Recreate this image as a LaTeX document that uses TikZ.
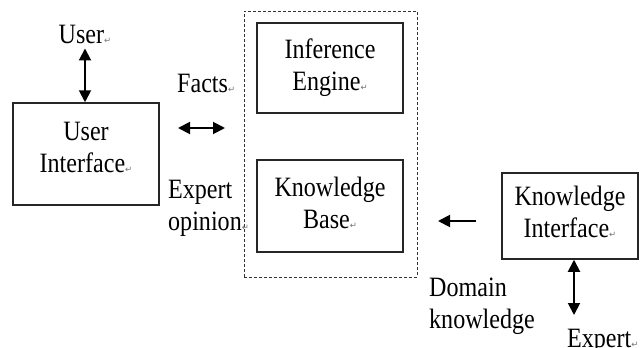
\documentclass[tikz,border=0pt]{standalone}
\usepackage{fontspec}
\setmainfont{Liberation Serif}[FakeStretch=0.86]
\newfontfamily\markfont{DejaVu Sans}
\usetikzlibrary{arrows.meta}
% small grey paragraph mark after a label
\newcommand{\retmark}{{\markfont\fontsize{8.5}{8.5}\selectfont\textcolor{black!55}{↵}}}
% invisible depth under the last line, to lift a box's text
\newcommand{\lift}[1]{\rule[-#1]{0pt}{#1}}

\begin{document}
\begin{tikzpicture}[x=1pt,y=-1pt,
  font=\fontsize{28}{32}\selectfont,
  box/.style={draw=black!85, line width=1.5pt, inner sep=0pt, align=center},
  sysbox/.style={draw=black!80, line width=0.8pt, dash pattern=on 3pt off 2pt, inner sep=0pt},
  lbl/.style={inner sep=0pt, align=left},
  dbl/.style={{Triangle[length=12pt,width=12pt]}-{Triangle[length=12pt,width=12pt]}, line width=1.9pt},
  sgl/.style={-{Triangle[length=12pt,width=12pt]}, line width=1.9pt}]
\useasboundingbox (0,0) rectangle (640,348);

% the system enclosure and its two parts
\node[sysbox, minimum width=173pt, minimum height=266pt] (sys) at (330.5,144) {};
\node[box, minimum width=146pt, minimum height=90pt] (ie) at (330,68) {Inference\\Engine\retmark};
\node[box, minimum width=146pt, minimum height=92pt] (kb) at (330,206) {Knowledge\\Base\retmark\lift{6pt}};

% user side
\node[box, minimum width=146pt, minimum height=102pt] (ui) at (86,154) {User\\Interface\retmark\lift{14pt}};
\node[inner sep=5pt, anchor=base] (user) at (85,43) {User\retmark};
\node[lbl, anchor=base west] (facts) at (177,92) {Facts\retmark};
\node[lbl, anchor=north west] (opinion) at (168,179.5) {Expert\\opinion\retmark};

% expert side
\node[box, minimum width=136pt, minimum height=86pt] (ki) at (570,216) {Knowledge\\Interface\retmark\lift{9pt}};
\node[lbl, anchor=north west] (domain) at (429,278) {Domain\\knowledge};
\node[lbl, anchor=base west] (expert) at (567,347) {Expert\retmark};

% free arrow ends
\coordinate (fa1) at (178,128);
\coordinate (fa2) at (225,128);
\coordinate (da1) at (476,221);
\coordinate (da2) at (438,221);
\coordinate (kiend) at (574,315);

% connectors
\draw[dbl] (user.south) -- (user.south |- ui.north);
\draw[dbl] (fa1) -- (fa2);
\draw[sgl] (da1) -- (da2);
\draw[dbl] (kiend |- ki.south) -- (kiend);
\end{tikzpicture}
\end{document}
